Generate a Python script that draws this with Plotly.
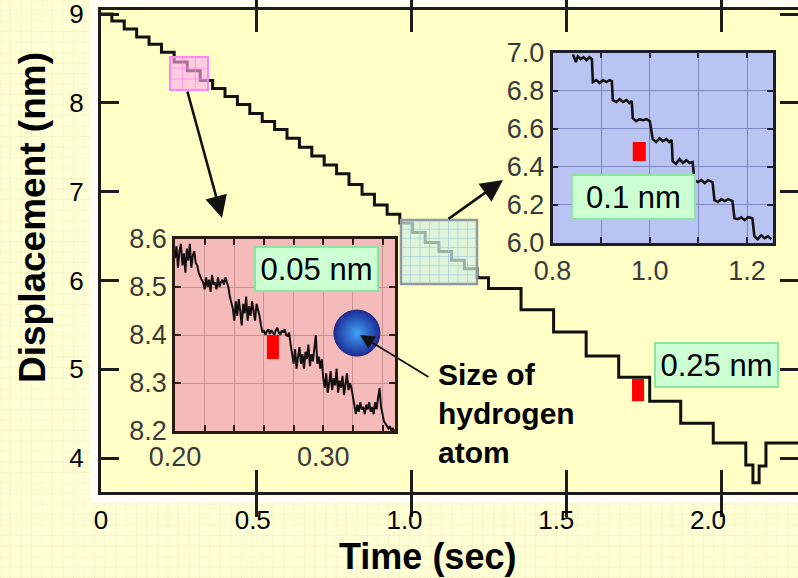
import plotly.graph_objects as go

W, H = 798, 578

# ---------------- data ----------------
# Full recording: onset time of each plateau (s) and its displacement (nm)
main_t = [0.000, 0.035, 0.075, 0.115, 0.155, 0.195, 0.236, 0.278, 0.320, 0.360,
          0.400, 0.440, 0.480, 0.520, 0.560, 0.600, 0.640, 0.680, 0.720, 0.760,
          0.800, 0.842, 0.882, 0.923, 0.964, 1.005, 1.046, 1.090, 1.131, 1.172,
          1.213, 1.250, 1.355, 1.460, 1.565, 1.670, 1.770, 1.870, 1.975, 2.080,
          2.103, 2.123, 2.145, 2.260]
main_d = [9.00, 8.92, 8.83, 8.74, 8.66, 8.57, 8.46, 8.36, 8.25, 8.16,
          8.07, 7.98, 7.88, 7.79, 7.70, 7.60, 7.50, 7.40, 7.30, 7.20,
          7.08, 6.97, 6.85, 6.745, 6.646, 6.54, 6.427, 6.325, 6.226, 6.13,
          6.03, 5.91, 5.67, 5.42, 5.15, 4.91, 4.64, 4.39, 4.17, 3.92,
          3.72, 3.91, 4.17, 4.17]

# Zoom 0.20-0.35 s, sampled every 1 ms (nm)
pink_t0, pink_dt = 0.200, 0.001
pink_d = [8.56, 8.585, 8.54, 8.575, 8.59, 8.545, 8.57, 8.53, 8.58, 8.555, 8.59, 8.54, 8.565, 8.575, 8.55,
          8.545, 8.53, 8.52, 8.515,
          8.51, 8.495, 8.52, 8.50, 8.515, 8.49, 8.525, 8.505, 8.51, 8.495, 8.52, 8.50, 8.51, 8.515, 8.505, 8.52, 8.51, 8.50,
          8.48, 8.465,
          8.455, 8.43, 8.47, 8.44, 8.475, 8.45, 8.42, 8.465, 8.445, 8.48, 8.43, 8.46, 8.44, 8.47, 8.45, 8.43, 8.465, 8.455, 8.44,
          8.42,
          8.405, 8.41, 8.40, 8.408, 8.412, 8.402, 8.41, 8.405, 8.40, 8.41, 8.415, 8.405, 8.40, 8.41, 8.405, 8.412, 8.40, 8.398, 8.405,
          8.38,
          8.36, 8.34, 8.37, 8.33, 8.355, 8.375, 8.34, 8.36, 8.33, 8.365, 8.35, 8.38, 8.335, 8.36, 8.345, 8.37, 8.40, 8.34, 8.355, 8.33, 8.35,
          8.31, 8.29, 8.32, 8.28, 8.30, 8.325, 8.285, 8.31, 8.295, 8.33, 8.28, 8.305, 8.29, 8.315, 8.275, 8.30, 8.32, 8.285, 8.30, 8.29,
          8.27,
          8.245, 8.235, 8.255, 8.24, 8.26, 8.245, 8.25, 8.235, 8.255, 8.245, 8.26, 8.24, 8.25, 8.235, 8.26, 8.245, 8.27, 8.29, 8.25, 8.235,
          8.22, 8.215, 8.21, 8.205, 8.21, 8.20, 8.205, 8.20]
pink_t = [round(pink_t0 + i * pink_dt, 4) for i in range(len(pink_d))]

# Zoom 0.8-1.25 s (s, nm)
blue_t = [0.842, 0.848, 0.852, 0.858, 0.864, 0.870, 0.876, 0.881,
          0.883, 0.890, 0.897, 0.904, 0.911, 0.917, 0.922,
          0.924, 0.931, 0.938, 0.945, 0.952, 0.958, 0.963,
          0.965, 0.972, 0.979, 0.986, 0.993, 1.000,
          1.006, 1.013, 1.020, 1.027, 1.034, 1.040, 1.045,
          1.047, 1.054, 1.061, 1.068, 1.075, 1.082, 1.088,
          1.092, 1.099, 1.106, 1.113, 1.120, 1.129,
          1.133, 1.140, 1.147, 1.154, 1.161, 1.170,
          1.174, 1.181, 1.188, 1.195, 1.202, 1.211,
          1.215, 1.222, 1.229, 1.236, 1.243, 1.250]
blue_d = [6.99, 6.95, 6.98, 6.965, 6.975, 6.96, 6.975, 6.965,
          6.845, 6.855, 6.84, 6.855, 6.845, 6.855, 6.85,
          6.75, 6.74, 6.755, 6.74, 6.75, 6.735, 6.745,
          6.655, 6.64, 6.65, 6.645, 6.65, 6.64,
          6.545, 6.53, 6.55, 6.535, 6.545, 6.53, 6.54,
          6.43, 6.415, 6.44, 6.42, 6.435, 6.42, 6.425,
          6.33, 6.32, 6.33, 6.315, 6.33, 6.32,
          6.225, 6.215, 6.23, 6.22, 6.23, 6.22,
          6.13, 6.125, 6.135, 6.12, 6.135, 6.13,
          6.035, 6.02, 6.04, 6.025, 6.035, 6.02]

main_xticks = [0, 0.5, 1.0, 1.5, 2.0]
main_xlabels = ["0", "0.5", "1.0", "1.5", "2.0"]
main_yticks = [4, 5, 6, 7, 8, 9]
pink_xticks, pink_xlabels = [0.20, 0.30], ["0.20", "0.30"]
pink_yticks = [8.2, 8.3, 8.4, 8.5, 8.6]
pink_ylabels = ["8.2", "8.3", "8.4", "8.5", "8.6"]
blue_xticks, blue_xlabels = [0.8, 1.0, 1.2], ["0.8", "1.0", "1.2"]
blue_yticks = [6.0, 6.2, 6.4, 6.6, 6.8, 7.0]
blue_ylabels = ["6.0", "6.2", "6.4", "6.6", "6.8", "7.0"]

# step sizes marked by the red scale bars (nm)
step_main, step_blue, step_pink = 0.25, 0.1, 0.05

# ---------------- styling helpers ----------------
def px(x):
    return x / W

def py(y):
    return 1 - y / H

FONT = "Liberation Sans, Arial, sans-serif"
AX = "#1c1c1c"
SLIDE_BG = "#FFFFD6"
PLOT_BG = "#FFFFC6"
PINK_BG = "#F5BABA"
BLUE_BG = "#BAC4F2"
MINT = "#CCFFD2"
MINT_EDGE = "#8DE6A0"

# main axes geometry
L, R, T, B = 101, 798, 10, 492
XSCALE = 310.0          # px per second
YSCALE = 88.8           # px per nm
x_range = [0, (R - L) / XSCALE]
y_range = [9 - (B - 14) / YSCALE, 9 + (14 - T) / YSCALE]

fig = go.Figure()

fig.add_trace(go.Scatter(x=main_t, y=main_d, mode="lines", line_shape="hv",
                         line=dict(color="#111111", width=3),
                         xaxis="x", yaxis="y", hoverinfo="skip", showlegend=False))
# empty traces so the label axis and the right-hand tick axis are laid out
fig.add_trace(go.Scatter(x=[None], y=[None], mode="lines", xaxis="x2", yaxis="y",
                         hoverinfo="skip", showlegend=False))
fig.add_trace(go.Scatter(x=[None], y=[None], mode="lines", xaxis="x", yaxis="y2",
                         hoverinfo="skip", showlegend=False))
fig.add_trace(go.Scatter(x=pink_t, y=pink_d, mode="lines",
                         line=dict(color="#141010", width=2.0),
                         xaxis="x3", yaxis="y3", hoverinfo="skip", showlegend=False))
fig.add_trace(go.Scatter(x=blue_t, y=blue_d, mode="lines",
                         line=dict(color="#121212", width=2.6),
                         xaxis="x4", yaxis="y4", hoverinfo="skip", showlegend=False))
# hydrogen atom
fig.add_trace(go.Scatter(x=[0.3227], y=[8.404], mode="markers",
                         marker=dict(size=46, color="#1d2c96",
                                     gradient=dict(type="radial", color="#3fa2f7"),
                                     line=dict(color="#172275", width=1)),
                         xaxis="x3", yaxis="y3", hoverinfo="skip", showlegend=False))

# ---------------- shapes ----------------
shapes = []
# faint slide grid
step = 10.5
segs = []
v = 0.0
while v <= W:
    segs.append(f"M{v / W:.5f},0L{v / W:.5f},1")
    v += step
v = 0.0
while v <= H:
    segs.append(f"M0,{1 - v / H:.5f}L1,{1 - v / H:.5f}")
    v += step
shapes.append(dict(type="path", path="".join(segs), xref="paper", yref="paper",
                   line=dict(color="rgba(215,215,140,0.22)", width=1), layer="below"))
# white chart frame and plot area
shapes.append(dict(type="rect", xref="paper", yref="paper", x0=px(90), x1=1, y0=py(503), y1=1,
                   fillcolor="#FFFFF4", line=dict(width=0), layer="below"))
shapes.append(dict(type="rect", xref="paper", yref="paper", x0=px(L), x1=1, y0=py(B), y1=py(T),
                   fillcolor=PLOT_BG, line=dict(width=0), layer="below"))
# inset backgrounds
shapes.append(dict(type="rect", xref="x3", yref="y3", x0=0.2, x1=0.3484, y0=8.2, y1=8.6,
                   fillcolor=PINK_BG, line=dict(width=0), layer="below"))
shapes.append(dict(type="rect", xref="x4", yref="y4", x0=0.8, x1=1.2533, y0=6.0, y1=7.0,
                   fillcolor=BLUE_BG, line=dict(width=0), layer="below"))

# small zoom-region markers on the main trace
pb = (170, 57, 208, 90)
shapes.append(dict(type="rect", xref="paper", yref="paper", x0=px(pb[0]), x1=px(pb[2]),
                   y0=py(pb[3]), y1=py(pb[1]), fillcolor="rgba(255,175,235,0.62)",
                   line=dict(color="#FF84F4", width=2), layer="above"))
for k in (1, 2):
    xx = pb[0] + k * (pb[2] - pb[0]) / 3
    yy = pb[1] + k * (pb[3] - pb[1]) / 3
    shapes.append(dict(type="line", xref="paper", yref="paper", x0=px(xx), x1=px(xx),
                       y0=py(pb[3]), y1=py(pb[1]), line=dict(color="rgba(255,130,240,0.7)", width=1), layer="above"))
    shapes.append(dict(type="line", xref="paper", yref="paper", x0=px(pb[0]), x1=px(pb[2]),
                       y0=py(yy), y1=py(yy), line=dict(color="rgba(255,130,240,0.7)", width=1), layer="above"))
tb = (401, 220, 477, 284)
shapes.append(dict(type="rect", xref="paper", yref="paper", x0=px(tb[0]), x1=px(tb[2]),
                   y0=py(tb[3]), y1=py(tb[1]), fillcolor="rgba(214,240,226,0.72)",
                   line=dict(color="#8E9AA0", width=2.5), layer="above"))
for k in range(1, 8):
    xx = tb[0] + k * (tb[2] - tb[0]) / 8
    shapes.append(dict(type="line", xref="paper", yref="paper", x0=px(xx), x1=px(xx),
                       y0=py(tb[3]), y1=py(tb[1]), line=dict(color="rgba(150,200,225,0.6)", width=1), layer="above"))
for k in range(1, 7):
    yy = tb[1] + k * (tb[3] - tb[1]) / 7
    shapes.append(dict(type="line", xref="paper", yref="paper", x0=px(tb[0]), x1=px(tb[2]),
                       y0=py(yy), y1=py(yy), line=dict(color="rgba(150,200,225,0.6)", width=1), layer="above"))

# red scale bars
RED = "#FF0000"
shapes.append(dict(type="rect", xref="x3", yref="y3", x0=0.262, x1=0.2701,
                   y0=8.40 - step_pink, y1=8.40, fillcolor=RED, line=dict(width=0), layer="above"))
shapes.append(dict(type="rect", xref="x4", yref="y4", x0=0.965, x1=0.9918,
                   y0=6.53 - step_blue, y1=6.53, fillcolor=RED, line=dict(width=0), layer="above"))
shapes.append(dict(type="rect", xref="x", yref="y", x0=1.713, x1=1.752,
                   y0=4.89 - step_main, y1=4.89, fillcolor=RED, line=dict(width=0), layer="above"))

# ---------------- annotations ----------------
ann = []
ann.append(dict(x=px(32), y=py(218), xref="paper", yref="paper", text="<b>Displacement (nm)</b>",
                textangle=-90, showarrow=False, xanchor="center", yanchor="middle",
                font=dict(family=FONT, size=37, color="black")))
ann.append(dict(x=px(427), y=py(556), xref="paper", yref="paper", text="<b>Time (sec)</b>",
                showarrow=False, xanchor="center", yanchor="middle",
                font=dict(family=FONT, size=36, color="black")))
ann.append(dict(x=px(436), y=py(413), xref="paper", yref="paper", xanchor="left", yanchor="middle",
                align="left", text="<b>Size of<br>hydrogen<br>atom</b>", showarrow=False,
                font=dict(family=FONT, size=30, color="black")))
for lab, cx, cy in ((f"{step_pink} nm", 316.5, 269), (f"{step_blue} nm", 633, 196.5),
                    (f"{step_main} nm", 716.5, 365)):
    ann.append(dict(x=px(cx), y=py(cy), xref="paper", yref="paper", text=lab, showarrow=False,
                    font=dict(family=FONT, size=31, color="black"), bgcolor=MINT,
                    bordercolor=MINT_EDGE, borderwidth=2, borderpad=0, width=121, height=42,
                    xanchor="center", yanchor="middle"))
for (tx, ty), (sx, sy), w, size in (((222, 218), (187, 90), 2.6, 1.7),
                                    ((503, 180), (447, 220), 2.6, 1.7),
                                    ((360, 335), (430, 378), 1.8, 1.6)):
    ann.append(dict(x=px(tx), y=py(ty), xref="paper", yref="paper", text="", showarrow=True,
                    ax=sx - tx, ay=sy - ty, arrowhead=2, arrowsize=size, arrowwidth=w,
                    arrowcolor="#111111", standoff=0, startstandoff=0))

tick_font = dict(family=FONT, size=26, color="black")
inset_font = dict(family=FONT, size=27, color="#3a3a3a")

fig.update_layout(
    width=W, height=H, margin=dict(l=0, r=0, t=0, b=0, autoexpand=False),
    paper_bgcolor=SLIDE_BG, plot_bgcolor="rgba(0,0,0,0)",
    showlegend=False, shapes=shapes, annotations=ann,
    xaxis=dict(domain=[px(L), 1], range=x_range, tickvals=[0.5, 1.0, 1.5, 2.0],
               ticks="inside", ticklen=22, tickwidth=3, tickcolor=AX,
               showline=True, linewidth=3, linecolor=AX, mirror="allticks",
               showticklabels=False, showgrid=False, zeroline=False, automargin=False),
    xaxis2=dict(overlaying="x", anchor="y", side="bottom",
                range=[0, (R - L) / 303.5], tickvals=main_xticks, ticktext=main_xlabels,
                ticks="", showline=False, showgrid=False, zeroline=False,
                tickfont=tick_font, ticklabelstandoff=10, automargin=False,
                ticklabeloverflow="allow"),
    yaxis=dict(domain=[py(B), py(T)], range=y_range, tickvals=main_yticks,
               ticktext=[str(v) for v in main_yticks],
               ticks="inside", ticklen=18, tickwidth=3, tickcolor=AX,
               showline=True, linewidth=3, linecolor=AX, mirror=False,
               showgrid=False, zeroline=False, tickfont=tick_font, ticklabelstandoff=9,
               automargin=False, ticklabeloverflow="allow"),
    yaxis2=dict(overlaying="y", anchor="x", side="right", range=y_range,
                tickvals=main_yticks, ticks="inside", ticklen=18, tickwidth=3,
                tickcolor=AX, showticklabels=False, showline=False, showgrid=False,
                zeroline=False, automargin=False),
    xaxis3=dict(domain=[px(175), px(395)], anchor="y3", range=[0.2, 0.3484],
                tickvals=pink_xticks, ticktext=pink_xlabels, ticks="inside", ticklen=6,
                tickwidth=2, tickcolor="#2a1812", showline=True, linewidth=2.5,
                linecolor="#2a1812", mirror="allticks", showgrid=True,
                gridcolor="#C99393", gridwidth=1, zeroline=False, tickfont=inset_font,
                ticklabelstandoff=0, automargin=False, ticklabeloverflow="allow",
                minor=dict(tick0=0.2, dtick=0.02, showgrid=True, gridcolor="#C99393",
                           gridwidth=1, ticks="inside", ticklen=6, tickwidth=2,
                           tickcolor="#2a1812")),
    yaxis3=dict(domain=[py(431), py(239)], anchor="x3", range=[8.2, 8.6],
                tickvals=pink_yticks, ticktext=pink_ylabels, ticks="inside", ticklen=6,
                tickwidth=2, tickcolor="#2a1812", showline=True, linewidth=2.5,
                linecolor="#2a1812", mirror="allticks", showgrid=True,
                gridcolor="#C99393", gridwidth=1, zeroline=False, tickfont=inset_font,
                automargin=False, ticklabeloverflow="allow"),
    xaxis4=dict(domain=[px(552.5), px(773)], anchor="y4", range=[0.8, 1.2533],
                tickvals=blue_xticks, ticktext=blue_xlabels, ticks="inside", ticklen=6,
                tickwidth=2, tickcolor="#1c1c2a", showline=True, linewidth=2.5,
                linecolor="#1c1c2a", mirror="allticks", showgrid=True,
                gridcolor="#7F89BF", gridwidth=1, zeroline=False, tickfont=inset_font,
                ticklabelstandoff=2, automargin=False, ticklabeloverflow="allow",
                minor=dict(tick0=0.8, dtick=0.1, showgrid=True, gridcolor="#7F89BF",
                           gridwidth=1, ticks="inside", ticklen=6, tickwidth=2,
                           tickcolor="#1c1c2a")),
    yaxis4=dict(domain=[py(243), py(52.5)], anchor="x4", range=[6.0, 7.0],
                tickvals=blue_yticks, ticktext=blue_ylabels, ticks="inside", ticklen=6,
                tickwidth=2, tickcolor="#1c1c2a", showline=True, linewidth=2.5,
                linecolor="#1c1c2a", mirror="allticks", showgrid=True,
                gridcolor="#7F89BF", gridwidth=1, zeroline=False, tickfont=inset_font,
                automargin=False, ticklabeloverflow="allow"),
)

fig.write_html("out.html")
